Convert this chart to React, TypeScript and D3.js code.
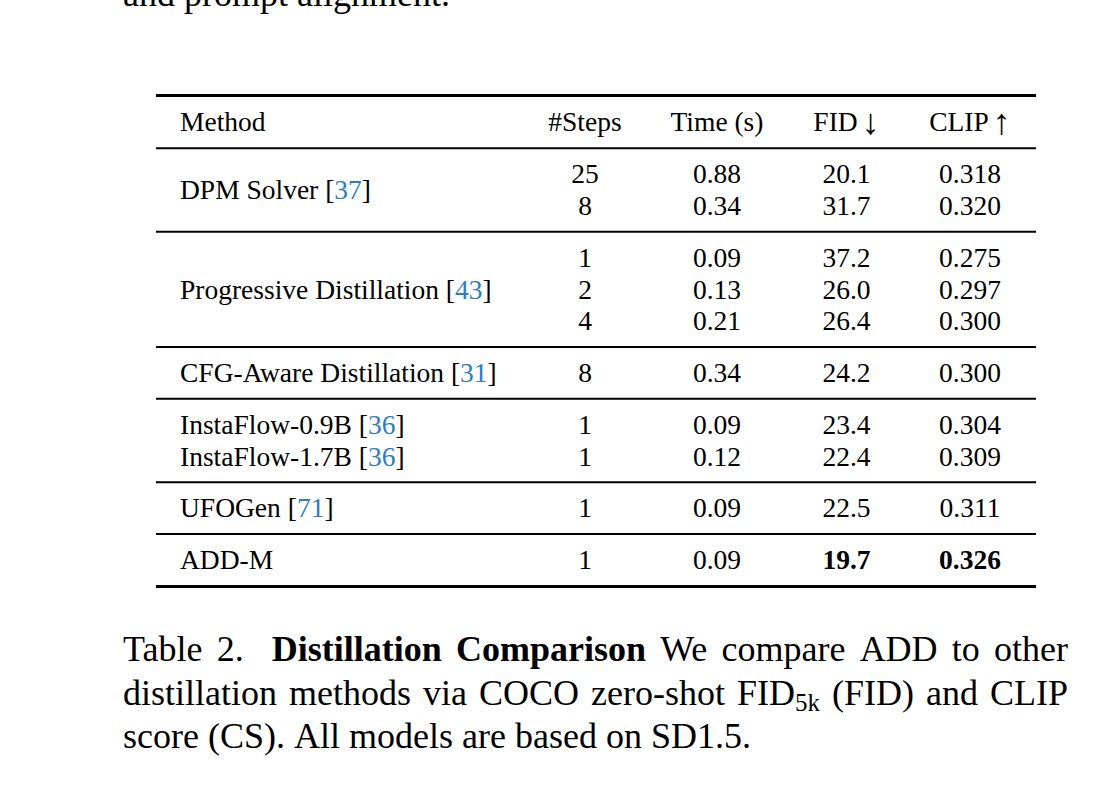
import React, { useEffect, useRef } from "react";
import * as d3 from "d3";

// ---------- data ----------
const headers = ["Method", "#Steps", "Time (s)", "FID", "CLIP"];
const headerArrows = ["", "", "", "\u2193", "\u2191"];
const steps = ["25", "8", "1", "2", "4", "8", "1", "1", "1", "1"];
const times = ["0.88", "0.34", "0.09", "0.13", "0.21", "0.34", "0.09", "0.12", "0.09", "0.09"];
const fids = ["20.1", "31.7", "37.2", "26.0", "26.4", "24.2", "23.4", "22.4", "22.5", "19.7"];
const clips = ["0.318", "0.320", "0.275", "0.297", "0.300", "0.300", "0.304", "0.309", "0.311", "0.326"];
const groupOf = [0, 0, 1, 1, 1, 2, 3, 3, 4, 5];
const boldRows = [9];

const methodNames = ["DPM Solver", "Progressive Distillation", "CFG-Aware Distillation", "InstaFlow-0.9B", "InstaFlow-1.7B", "UFOGen", "ADD-M"];
const methodRefs = ["37", "43", "31", "36", "36", "71", ""];
const methodFirstRow = [0, 2, 5, 6, 7, 8, 9];
const methodLastRow = [1, 4, 5, 6, 7, 8, 9];

const topLine = "and prompt alignment.";
type Seg = { t: string; bold?: boolean; sub?: boolean };
const captionLines: { words: Seg[][]; justify: boolean; extraAfter?: number }[] = [
  {
    words: [
      [{ t: "Table" }], [{ t: "2." }],
      [{ t: "Distillation", bold: true }], [{ t: "Comparison", bold: true }],
      [{ t: "We" }], [{ t: "compare" }], [{ t: "ADD" }], [{ t: "to" }], [{ t: "other" }],
    ],
    justify: true,
    extraAfter: 1,
  },
  {
    words: [
      [{ t: "distillation" }], [{ t: "methods" }], [{ t: "via" }], [{ t: "COCO" }], [{ t: "zero-shot" }],
      [{ t: "FID" }, { t: "5k", sub: true }], [{ t: "(FID)" }], [{ t: "and" }], [{ t: "CLIP" }],
    ],
    justify: true,
  },
  {
    words: [
      [{ t: "score" }], [{ t: "(CS)." }], [{ t: "All" }], [{ t: "models" }], [{ t: "are" }],
      [{ t: "based" }], [{ t: "on" }], [{ t: "SD1.5." }],
    ],
    justify: false,
  },
];

// ---------- style / layout ----------
const W = 1101, H = 802;
const FONT = "'Liberation Serif', 'Times New Roman', Times, serif";
const TFS = 27.5; // table font size
const CFS = 36; // caption font size
const LINK = "#2f7dc0";
const tableLeft = 156, tableRight = 1036;
const topRuleY = 95.5, headerBaseline = 131, headerRuleY = 148.3;
const gapTop = 35, rowStep = 31.7, gapBottom = 16.8;
const methodX = 180;
const colX = d3.scaleOrdinal<string, number>().domain(headers.slice(1)).range([585, 717, 846.5, 970]);

export default function App() {
  const ref = useRef<SVGSVGElement | null>(null);

  useEffect(() => {
    const svg = d3.select(ref.current!);
    svg.selectAll("*").remove();
    svg.append("rect").attr("width", W).attr("height", H).attr("fill", "#fff");

    // top cut text
    svg.append("text").attr("x", 123).attr("y", 6)
      .style("font-family", FONT).style("font-size", CFS + "px").attr("fill", "#000")
      .text(topLine);

    // row positions
    const rowY: number[] = [];
    const ruleYs: number[] = [];
    let y = headerRuleY + gapTop;
    steps.forEach((_, i) => {
      if (i > 0) {
        if (groupOf[i] !== groupOf[i - 1]) {
          ruleYs.push(rowY[i - 1] + gapBottom);
          y = rowY[i - 1] + gapBottom + gapTop;
        } else y = rowY[i - 1] + rowStep;
      }
      rowY.push(y);
    });
    const bottomRuleY = rowY[rowY.length - 1] + gapBottom + 0.6;

    const rule = (yy: number, w: number) =>
      svg.append("line").attr("x1", tableLeft).attr("x2", tableRight)
        .attr("y1", yy).attr("y2", yy).attr("stroke", "#000").attr("stroke-width", w);
    rule(topRuleY, 3.2);
    rule(headerRuleY, 2);
    ruleYs.forEach((r) => rule(r, 2));
    rule(bottomRuleY, 3.2);

    const txt = (x: number, yy: number, s: string, anchor = "middle", bold = false) =>
      svg.append("text").attr("x", x).attr("y", yy).attr("text-anchor", anchor)
        .style("font-family", FONT).style("font-size", TFS + "px")
        .style("font-weight", bold ? "bold" : "normal").attr("fill", "#000").text(s);

    // header
    txt(methodX, headerBaseline, headers[0], "start");
    headers.slice(1).forEach((h, k) => {
      const arrow = headerArrows[k + 1];
      const t = svg.append("text").attr("x", colX(h)).attr("y", headerBaseline).attr("text-anchor", "middle")
        .style("font-family", FONT).style("font-size", TFS + "px").attr("fill", "#000");
      t.append("tspan").text(h);
      if (arrow) {
        t.append("tspan").style("font-size", "36px").attr("dx", 4).attr("dy", 3).text(arrow);
      }
    });

    // data cells
    const cols = [steps, times, fids, clips];
    steps.forEach((_, i) => {
      cols.forEach((col, c) => {
        const bold = boldRows.includes(i) && c >= 2;
        txt(colX(headers[c + 1]), rowY[i], col[i], "middle", bold);
      });
    });

    // method labels
    methodNames.forEach((name, m) => {
      const yy = (rowY[methodFirstRow[m]] + rowY[methodLastRow[m]]) / 2;
      const t = svg.append("text").attr("x", methodX).attr("y", yy)
        .style("font-family", FONT).style("font-size", TFS + "px").attr("fill", "#000");
      t.append("tspan").text(name);
      if (methodRefs[m]) {
        t.append("tspan").text(" [");
        t.append("tspan").attr("fill", LINK).text(methodRefs[m]);
        t.append("tspan").text("]");
      }
    });

    // caption
    const capX0 = 123, capX1 = 1068;
    const capBase = [661, 704.5, 748];
    const subFS = 25;
    captionLines.forEach((line, li) => {
      const g = svg.append("g");
      const wordNodes: { nodes: d3.Selection<SVGTextElement, unknown, null, undefined>[]; w: number }[] = [];
      line.words.forEach((word) => {
        const nodes: d3.Selection<SVGTextElement, unknown, null, undefined>[] = [];
        let w = 0;
        word.forEach((seg) => {
          const n = g.append("text").attr("y", capBase[li] + (seg.sub ? 6 : 0))
            .style("font-family", FONT).style("font-size", (seg.sub ? subFS : CFS) + "px")
            .style("font-weight", seg.bold ? "bold" : "normal").attr("fill", "#000").text(seg.t);
          nodes.push(n as any);
          w += (n.node() as SVGTextElement).getComputedTextLength();
        });
        wordNodes.push({ nodes, w });
      });
      const total = d3.sum(wordNodes, (d) => d.w);
      const extra = line.extraAfter !== undefined ? 14 : 0;
      const gaps = wordNodes.length - 1;
      const gap = line.justify ? (capX1 - capX0 - total - extra) / gaps : CFS * 0.25;
      let x = capX0;
      wordNodes.forEach((wn, wi) => {
        let xx = x;
        wn.nodes.forEach((n) => {
          n.attr("x", xx);
          xx += (n.node() as SVGTextElement).getComputedTextLength();
        });
        x += wn.w + gap + (line.extraAfter === wi ? extra : 0);
      });
    });
  }, []);

  return (
    <svg ref={ref} width={W} height={H}
      style={{ position: "absolute", left: 0, top: 0, background: "#fff" }} />
  );
}
